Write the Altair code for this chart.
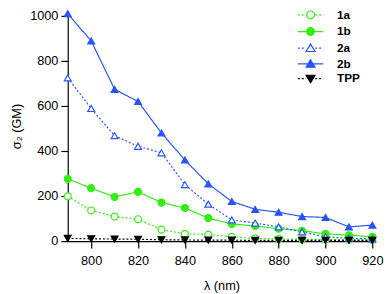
import altair as alt
import pandas as pd

wavelength = [790, 800, 810, 820, 830, 840, 850, 860, 870, 880, 890, 900, 910, 920]
s_1a = [199, 136, 109, 97, 51, 32, 29, 19, 12, 10, 8, 7, 6, 5]
s_1b = [276, 235, 196, 219, 171, 147, 102, 76, 67, 55, 46, 32, 26, 19]
s_2a = [725, 589, 468, 421, 392, 251, 164, 94, 80, 63, 41, 19, 12, 10]
s_2b = [1010, 889, 674, 620, 480, 360, 254, 176, 141, 128, 109, 105, 63, 71]
s_tpp = [12, 10, 9, 8, 6, 5, 4, 4, 3, 3, 3, 3, 3, 3]

series_names = ["1a", "1b", "2a", "2b", "TPP"]
series_vals = [s_1a, s_1b, s_2a, s_2b, s_tpp]

rows = []
for name, vals in zip(series_names, series_vals):
    for w, v in zip(wavelength, vals):
        rows.append({"lam": w, "val": v, "series": name})
df = pd.DataFrame(rows)

GREEN = "#33ee11"
BLUE = "#2955f5"
BLACK = "#000000"
line_colors = [GREEN, GREEN, BLUE, BLUE, BLACK]
fill_colors = ["#ffffff", GREEN, "#fffffe", BLUE, BLACK]
dashes = [[2, 2], [1, 0], [2, 2], [1, 0], [2, 2]]
shapes = ["circle", "circle", "triangle-up", "triangle-up", "triangle-down"]

# legend symbol paths (units scaled by 4 px)
def dotted(x0, x1, d=0.5, g=0.5):
    parts = []
    x = x0
    while x < x1 - 1e-6:
        e = min(x + d, x1)
        parts.append(f"M{x:.3f},0L{e:.3f},0")
        x += d + g
    return "".join(parts)

r = 1.0
circ = f"M{r},0A{r},{r},0,1,1,{-r},0A{r},{r},0,1,1,{r},0Z"
tri_up = "M0,-1.05L1.15,0.85L-1.15,0.85Z"
tri_dn = "M0,1.05L1.15,-0.85L-1.15,-0.85Z"
solid = "M-3.25,0L3.25,0"
leg_paths = [
    dotted(-3.25, -1.1) + dotted(1.2, 3.25) + circ,
    solid + circ,
    dotted(-3.25, -1.2) + dotted(1.2, 3.25) + tri_up,
    solid + tri_up,
    dotted(-3.25, -1.2) + dotted(1.2, 3.25) + tri_dn,
]

x_scale = alt.Scale(domain=[790, 921.2], nice=False, zero=False)
y_scale = alt.Scale(domain=[0, 1022], nice=False)

x_enc = alt.X("lam:Q", scale=x_scale,
              axis=alt.Axis(values=[800, 820, 840, 860, 880, 900, 920], title="λ (nm)",
                            labelPadding=7, titlePadding=12))
y_enc = alt.Y("val:Q", scale=y_scale,
              axis=alt.Axis(values=[0, 200, 400, 600, 800, 1000], title="σ₂ (GM)", format="d",
                            labelPadding=3, titlePadding=6))

line_layers = []
point_layers = []
for name, lc, fc, sh, d in zip(series_names, line_colors, fill_colors, shapes, dashes):
    base = alt.Chart(df).transform_filter(alt.datum.series == name)
    line_layers.append(
        base.mark_line(strokeWidth=1.2, stroke=lc, strokeDash=d).encode(x=x_enc, y=y_enc)
    )
    point_layers.append(
        base.mark_point(size=50, strokeWidth=1.2, opacity=1, filled=True,
                        shape=sh, fill=fc, stroke=lc).encode(x=x_enc, y=y_enc)
    )

leg_common = dict(title=None, orient="none", legendX=242, legendY=-2)
legend_layer = alt.Chart(df).mark_point(opacity=0, size=64, strokeWidth=1.2, filled=True).encode(
    x=x_enc, y=y_enc,
    shape=alt.Shape("series:N", scale=alt.Scale(domain=series_names, range=leg_paths),
                    legend=alt.Legend(symbolSize=64, symbolStrokeWidth=1.2, labelOffset=21,
                                      labelFontSize=12, labelFontWeight="bold", labelFont="Liberation Sans",
                                      labelColor="black", rowPadding=3, padding=0, symbolOpacity=1,
                                      **leg_common)),
    color=alt.Color("series:N", scale=alt.Scale(domain=series_names, range=fill_colors),
                    legend=alt.Legend(**leg_common)),
    stroke=alt.Stroke("series:N", scale=alt.Scale(domain=series_names, range=line_colors),
                      legend=alt.Legend(**leg_common)),
)

chart = alt.layer(*line_layers, *point_layers, legend_layer).properties(
    width=314, height=235,
    autosize=alt.AutoSizeParams(type="none"),
    padding={"left": 61, "top": 0, "right": 9, "bottom": 51},
).configure_view(stroke=None).configure_axis(
    domainColor="black", domainWidth=1.2, tickColor="black", tickWidth=1.2, tickSize=7,
    grid=False, labelFont="Liberation Sans", labelFontSize=13, labelColor="black",
    titleFont="Liberation Sans", titleFontSize=13, titleFontWeight="normal", titleColor="black",
)

chart.save("out.html", embed_options={"renderer": "svg", "actions": False})
